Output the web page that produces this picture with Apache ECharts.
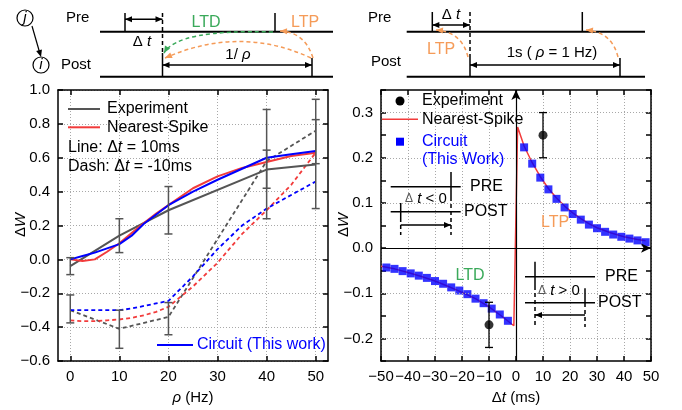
<!DOCTYPE html>
<html><head><meta charset="utf-8">
<script src="https://cdn.jsdelivr.net/npm/echarts@6/dist/echarts.min.js"></script>
<style>html,body{margin:0;padding:0;background:#fff}#c{width:682px;height:410px}</style>
</head><body><div id="c"></div>
<script>
// ---------- data: left panel (rho sweep) ----------
const rhoTicks = [0, 10, 20, 30, 40, 50];
const modelX = [0, 2.5, 5, 7.5, 10, 12.5, 15, 17.5, 20, 25, 30, 35, 40, 45, 50];
const nsSolid = [0.0, -0.01, 0.0, 0.045, 0.095, 0.155, 0.215, 0.27, 0.32, 0.42, 0.49, 0.54, 0.575, 0.61, 0.63];
const nsDash = [-0.36, -0.365, -0.365, -0.36, -0.355, -0.345, -0.33, -0.31, -0.28, -0.16, -0.02, 0.15, 0.29, 0.44, 0.63];
const cirSolid = [0.0, 0.02, 0.04, 0.065, 0.09, 0.14, 0.21, 0.265, 0.32, 0.40, 0.47, 0.535, 0.60, 0.62, 0.64];
const cirDash = [-0.30, -0.30, -0.30, -0.30, -0.30, -0.29, -0.275, -0.26, -0.245, -0.10, 0.06, 0.20, 0.30, 0.38, 0.46];
const expX = [0, 10, 20, 40, 50];
const expSolid = [-0.04, 0.14, 0.29, 0.53, 0.56];
const expSolidLo = [-0.09, 0.04, 0.15, 0.42, 0.30];
const expSolidHi = [0.01, 0.24, 0.43, 0.645, 0.825];
const expDash = [-0.30, -0.41, -0.34, 0.58, 0.76];
const expDashLo = [-0.375, -0.525, -0.445, 0.24, 0.565];
const expDashHi = [-0.21, -0.30, -0.255, 0.885, 0.945];

// ---------- data: right panel (STDP window) ----------
const nsRX = [-50, -45, -40, -35, -30, -25, -20, -15, -10, -5, -0.8, 0.6, 3, 6, 9, 12, 15, 18, 21, 24, 27, 30, 35, 40, 45, 48];
const nsRY = [-0.040, -0.046, -0.054, -0.063, -0.073, -0.085, -0.098, -0.112, -0.130, -0.152, -0.172, 0.268, 0.226, 0.189, 0.158, 0.132, 0.111, 0.093, 0.078, 0.065, 0.054, 0.045, 0.034, 0.025, 0.019, 0.016];
const cirRX = [-48, -45, -42, -39, -36, -33, -30, -27, -24, -21, -18, -15, -12, -9, -6, -3, 3, 6, 9, 12, 15, 18, 21, 24, 27, 30, 33, 36, 39, 42, 45, 48];
const cirRY = [-0.043, -0.046, -0.051, -0.056, -0.061, -0.066, -0.073, -0.079, -0.087, -0.094, -0.102, -0.112, -0.122, -0.134, -0.147, -0.161, 0.223, 0.187, 0.156, 0.130, 0.109, 0.090, 0.0755, 0.063, 0.052, 0.044, 0.036, 0.030, 0.025, 0.021, 0.017, 0.013];
const expRX = [-10, 10];
const expRY = [-0.17, 0.25];
const expRLo = [-0.22, 0.20];
const expRHi = [-0.12, 0.30];
const rGridY = [-0.2, -0.1, 0.1, 0.2, 0.3];

// ---------- styling ----------
const FONT = '"Liberation Sans", Arial, Helvetica, sans-serif';
const GRAY = '#555555', RED = '#f23b3b', BLUE = '#0000ff', GREEN = '#3aa95a', ORANGE = '#f59b58', K = '#000';
const pairs = (xs, ys) => xs.map((x, i) => [x, ys[i]]);
const minusFmt1 = v => (v < -1e-9 ? '\u2212' : '') + Math.abs(v).toFixed(1);
const ital = {i: {fontStyle: 'italic', fontSize: 15, fontFamily: FONT, color: K}};

function axisCommon(o) {
  const a = {
    type: 'value', gridIndex: o.g, position: o.pos, min: o.min, max: o.max,
    axisLine: {show: true, onZero: false, lineStyle: {color: K, width: 1.5}},
    axisTick: {show: true, inside: true, length: 5, lineStyle: {color: K, width: 1.5}},
    axisLabel: {show: !!o.fmt, color: K, fontSize: 15, fontFamily: FONT, margin: 8, formatter: o.fmt},
    splitLine: {show: !!o.split, lineStyle: {color: '#a8a8a8', type: [1, 2], width: 1}},
    silent: true
  };
  if (o.interval) a.interval = o.interval;
  if (o.custom) { a.axisTick.customValues = o.custom; a.axisLabel.customValues = o.custom; }
  if (o.name) {
    a.name = o.name; a.nameLocation = 'middle'; a.nameGap = o.gap; a.nameMoveOverlap = false;
    a.nameTextStyle = {color: K, fontSize: 15, fontFamily: FONT, rich: ital};
  }
  return a;
}

function lineS(xs, ys, color, dashed, ax, w) {
  return {type: 'line', xAxisIndex: ax, yAxisIndex: ax, data: pairs(xs, ys), symbol: 'none', showSymbol: false,
    lineStyle: {color: color, width: w || 2, type: dashed ? [4, 3] : 'solid'}, itemStyle: {color: color},
    z: 3, silent: true, animation: false};
}
function errS(xs, lo, hi, color, ax, w) {
  return {type: 'custom', xAxisIndex: ax, yAxisIndex: ax, data: xs.map((x, i) => [x, lo[i], hi[i]]),
    encode: {x: 0, y: [1, 2]}, z: 5, silent: true, animation: false,
    renderItem: function (params, api) {
      const a = api.coord([api.value(0), api.value(1)]), b = api.coord([api.value(0), api.value(2)]);
      const st = {stroke: color, lineWidth: w};
      return {type: 'group', children: [
        {type: 'line', shape: {x1: a[0], y1: a[1], x2: b[0], y2: b[1]}, style: st},
        {type: 'line', shape: {x1: a[0] - 4, y1: a[1], x2: a[0] + 4, y2: a[1]}, style: st},
        {type: 'line', shape: {x1: b[0] - 4, y1: b[1], x2: b[0] + 4, y2: b[1]}, style: st}
      ]};
    }};
}

// ---------- graphic helpers (schematics, legends) ----------
function ln(x1, y1, x2, y2, o) { o = o || {}; return {type: 'line', silent: true, z: 10, shape: {x1, y1, x2, y2}, style: {stroke: o.c || K, lineWidth: o.w || 1.5, lineDash: o.d || null}}; }
function hd(x, y, ang, c, len, hw) {
  c = c || K; len = len || 7; hw = hw || 3;
  const ca = Math.cos(ang), sa = Math.sin(ang), bx = x - len * ca, by = y - len * sa;
  return {type: 'polygon', silent: true, z: 10, shape: {points: [[x, y], [bx - hw * sa, by + hw * ca], [bx + hw * sa, by - hw * ca]]}, style: {fill: c}};
}
function dbl(x1, x2, y) { return [ln(x1, y, x2, y), hd(x1, y, Math.PI), hd(x2, y, 0)]; }
function tx(text, x, y, o) {
  o = o || {};
  const el = {type: 'text', silent: true, z: 10, x: x, y: y, style: {text: text, fill: o.c || K, fontSize: o.s || 15, fontFamily: FONT, fontStyle: o.it ? 'italic' : 'normal',
    align: o.a || 'center', verticalAlign: 'middle', rich: o.rich}};
  if (o.rot) el.rotation = o.rot;
  return el;
}
function bz(x1, y1, cx, cy, x2, y2, c) {
  return [{type: 'bezierCurve', silent: true, z: 10, shape: {x1, y1, x2, y2, cpx1: cx, cpy1: cy}, style: {stroke: c, lineWidth: 1.5, lineDash: [4, 3], fill: null}},
    hd(x2, y2, Math.atan2(y2 - cy, x2 - cx), c, 7, 3)];
}
const richI = (s, c) => ({i: {fontStyle: 'italic', fontSize: s || 15, fontFamily: FONT, fill: c || K}});

let G = [];
// top-left schematic
G.push({type: 'circle', silent: true, z: 10, shape: {cx: 25, cy: 18, r: 8}, style: {stroke: K, lineWidth: 1.2, fill: '#fff'}});
G.push(tx('j', 25, 18, {it: true}));
G.push({type: 'circle', silent: true, z: 10, shape: {cx: 41, cy: 65, r: 8}, style: {stroke: K, lineWidth: 1.2, fill: '#fff'}});
G.push(tx('i', 41, 65, {it: true}));
G.push(ln(32, 26, 39.5, 52, {w: 1.2}), hd(41, 57, Math.atan2(31, 9), K, 7, 3));
G.push(tx('Pre', 66, 18, {a: 'left'}), tx('Post', 61, 65, {a: 'left'}));
G.push(ln(100, 31.7, 333, 31.7, {w: 2}), ln(100, 76.7, 333, 76.7, {w: 2}));
G.push(ln(125, 13, 125, 31.7), ln(275, 13, 275, 31.7));
G.push(ln(162.5, 13, 162.5, 53, {d: [4, 3]}), ln(162.5, 53, 162.5, 76.7));
G.push(ln(312, 58, 312, 76.7));
G.push(...dbl(125, 162.5, 19.3));
G.push(tx('\u0394 {i|t}', 142, 42, {rich: richI()}));
G.push(tx('LTD', 206, 22.7, {c: GREEN, s: 16}), tx('LTP', 305, 22.7, {c: ORANGE, s: 16}));
G.push(...dbl(162.5, 312, 65));
G.push(tx('1/ {i|\u03c1}', 238, 55, {rich: richI()}));
G.push(...bz(273, 32, 178, 29, 164, 53, GREEN));
G.push(...bz(313, 58, 305, 32, 280, 31, ORANGE));
G.push(...bz(311, 58, 240, 25, 165, 58, ORANGE));
// top-right schematic
G.push(tx('Pre', 368, 18, {a: 'left'}), tx('Post', 371, 62, {a: 'left'}));
G.push(ln(406.7, 31.7, 645, 31.7, {w: 2}), ln(406.7, 76.7, 645, 76.7, {w: 2}));
G.push(ln(432.3, 12, 432.3, 31.7), ln(582.3, 12, 582.3, 31.7));
G.push(ln(470, 12, 470, 58, {d: [4, 3]}), ln(470, 58, 470, 76.7));
G.push(ln(620, 58, 620, 76.7));
G.push(...dbl(432.3, 470, 25));
G.push(tx('\u0394 {i|t}', 451, 15, {rich: richI()}));
G.push(...dbl(470, 620, 65));
G.push(tx('1s ( {i|\u03c1} = 1 Hz)', 552, 53, {rich: richI()}));
G.push(...bz(468, 57, 462, 32, 436, 30, ORANGE));
G.push(...bz(618, 57, 612, 32, 586, 30, ORANGE));
G.push(tx('LTP', 441, 50, {c: ORANGE, s: 16}));
// left legend
G.push(ln(68, 109, 100, 109, {c: GRAY, w: 2}), tx('Experiment', 107, 109, {a: 'left', s: 16}));
G.push(ln(68, 127.3, 100, 127.3, {c: RED, w: 2}), tx('Nearest-Spike', 107, 127.3, {a: 'left', s: 16}));
G.push(tx('Line: \u0394{i|t} = 10ms', 68, 148, {a: 'left', s: 16, rich: richI(16)}));
G.push(tx('Dash: \u0394{i|t} = -10ms', 68, 167, {a: 'left', s: 16, rich: richI(16)}));
G.push(ln(157, 345, 193, 345, {c: BLUE, w: 2}), tx('Circuit (This work)', 197, 345, {a: 'left', s: 16, c: BLUE}));
// right legend
G.push({type: 'circle', silent: true, z: 10, shape: {cx: 400, cy: 101, r: 4.5}, style: {fill: K}});
G.push(tx('Experiment', 422, 101, {a: 'left', s: 16}));
G.push(ln(382, 119.3, 418, 119.3, {c: RED, w: 1.5}), tx('Nearest-Spike', 422, 119.3, {a: 'left', s: 16}));
G.push({type: 'rect', silent: true, z: 10, shape: {x: 396, y: 137.7, width: 8, height: 8}, style: {fill: BLUE}});
G.push(tx('Circuit', 422, 142, {a: 'left', s: 16, c: BLUE}), tx('(This Work)', 422, 160, {a: 'left', s: 16, c: BLUE}));
// inset dt<0
G.push(ln(390.7, 186.7, 460.7, 186.7), ln(390.7, 211.7, 460.7, 211.7));
G.push(ln(451, 172, 451, 197), ln(451, 197, 451, 235, {d: [4, 3]}));
G.push(ln(400.7, 203, 400.7, 218), ln(400.7, 218, 400.7, 235, {d: [4, 3]}));
G.push(ln(400.7, 225, 451, 225), hd(451, 225, 0));
G.push(tx('{d|\u0394} {i|t} < 0', 426, 199, {s: 15, rich: {i: {fontStyle: 'italic', fontSize: 15, fontFamily: FONT}, d: {fontSize: 12, fontFamily: FONT, fill: '#555'}}}));
G.push(tx('PRE', 470, 186.7, {a: 'left', s: 16}), tx('POST', 464, 212, {a: 'left', s: 16}));
// inset dt>0
G.push(ln(525, 276.7, 595, 276.7), ln(525, 302.7, 595, 302.7));
G.push(ln(535, 261.7, 535, 286), ln(535, 286, 535, 327, {d: [4, 3]}));
G.push(ln(585, 288.3, 585, 303), ln(585, 303, 585, 327, {d: [4, 3]}));
G.push(ln(535, 315, 585, 315), hd(535, 315, Math.PI));
G.push(tx('{d|\u0394} {i|t} > 0', 559, 290.5, {s: 15, rich: {i: {fontStyle: 'italic', fontSize: 15, fontFamily: FONT}, d: {fontSize: 12, fontFamily: FONT, fill: '#555'}}}));
G.push(tx('PRE', 605, 276.7, {a: 'left', s: 16}), tx('POST', 598, 302.7, {a: 'left', s: 16}));
G.push(tx('LTP', 555, 222.7, {c: ORANGE, s: 16}), tx('LTD', 470, 276, {c: GREEN, s: 16}));
// y-axis titles
G.push(tx('\u0394{i|W}', 21, 225, {s: 15, rot: Math.PI / 2, rich: richI(15)}));
G.push(tx('\u0394{i|W}', 344, 225, {s: 15, rot: Math.PI / 2, rich: richI(15)}));

const rYFmt = v => { const r = Math.round(v * 100); if (r % 10 !== 0) return ''; return (r < 0 ? '\u2212' : '') + (Math.abs(r) / 100).toFixed(1); };
const rXFmt = v => (v < 0 ? '\u2212' + (-v) : String(v));

const option = {
  animation: false,
  backgroundColor: '#fff',
  textStyle: {fontFamily: FONT},
  grid: [
    {left: 58, top: 90, width: 270, height: 271, outerBoundsMode: 'none', containLabel: false},
    {left: 381, top: 90, width: 270, height: 271, outerBoundsMode: 'none', containLabel: false}
  ],
  xAxis: [
    axisCommon({g: 0, pos: 'bottom', min: -2.5, max: 52.5, custom: rhoTicks, fmt: v => String(v), split: true, name: '{i|\u03c1} (Hz)', gap: 29}),
    axisCommon({g: 0, pos: 'top', min: -2.5, max: 52.5, custom: rhoTicks}),
    axisCommon({g: 1, pos: 'bottom', min: -50, max: 50, interval: 10, fmt: rXFmt, split: true, name: '\u0394{i|t} (ms)', gap: 29}),
    axisCommon({g: 1, pos: 'top', min: -50, max: 50, interval: 10})
  ],
  yAxis: [
    axisCommon({g: 0, pos: 'left', min: -0.6, max: 1.0, interval: 0.2, fmt: minusFmt1, split: true}),
    axisCommon({g: 0, pos: 'right', min: -0.6, max: 1.0, interval: 0.2}),
    axisCommon({g: 1, pos: 'left', min: -0.25, max: 0.35, interval: 0.05, fmt: rYFmt}),
    axisCommon({g: 1, pos: 'right', min: -0.25, max: 0.35, interval: 0.05})
  ],
  graphic: G,
  series: [
    // left panel
    lineS(expX, expDash, GRAY, true, 0, 1.8),
    lineS(modelX, nsDash, RED, true, 0, 1.8),
    lineS(modelX, cirDash, BLUE, true, 0, 1.8),
    lineS(expX, expSolid, GRAY, false, 0, 2),
    lineS(modelX, nsSolid, RED, false, 0, 2),
    lineS(modelX, cirSolid, BLUE, false, 0, 2),
    errS(expX, expSolidLo, expSolidHi, GRAY, 0, 1.5),
    errS(expX, expDashLo, expDashHi, GRAY, 0, 1.5),
    // right panel grid lines and zero axes
    {type: 'line', xAxisIndex: 2, yAxisIndex: 2, data: [], z: 1, silent: true,
      markLine: {silent: true, symbol: 'none', label: {show: false}, animation: false,
        lineStyle: {color: '#a8a8a8', type: [1, 2], width: 1}, data: rGridY.map(v => ({yAxis: v}))}},
    {type: 'line', xAxisIndex: 2, yAxisIndex: 2, data: [], z: 2, silent: true,
      markLine: {silent: true, symbol: ['none', 'arrow'], symbolSize: [7, 10], label: {show: false}, animation: false,
        lineStyle: {color: K, type: 'solid', width: 1.2}, data: [{xAxis: 0}, {yAxis: 0}]}},
    lineS(nsRX, nsRY, RED, false, 2, 1.5),
    {type: 'scatter', xAxisIndex: 2, yAxisIndex: 2, data: pairs(cirRX, cirRY), symbol: 'rect', symbolSize: 8,
      itemStyle: {color: BLUE}, z: 4, silent: true},
    errS(expRX, expRLo, expRHi, K, 2, 1.3),
    {type: 'scatter', xAxisIndex: 2, yAxisIndex: 2, data: pairs(expRX, expRY), symbol: 'circle', symbolSize: 9,
      itemStyle: {color: K}, z: 6, silent: true}
  ]
};
const chart = echarts.init(document.getElementById('c'), null, {renderer: 'canvas'});
chart.setOption(option);
</script>
</body></html>
